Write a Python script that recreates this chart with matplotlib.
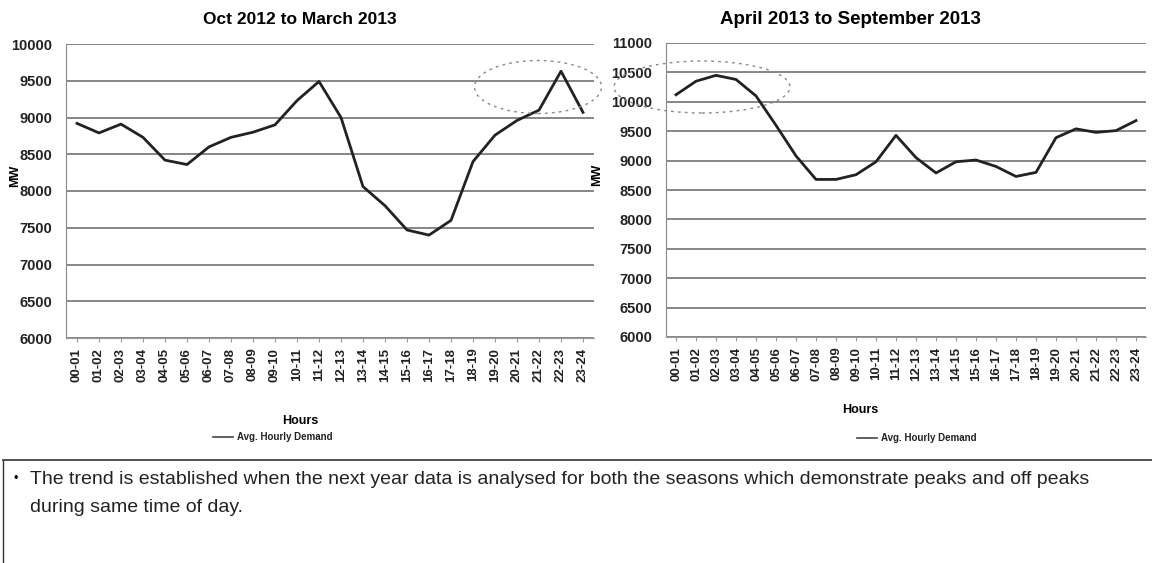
import matplotlib
matplotlib.use("Agg")
import matplotlib.pyplot as plt
from matplotlib.patches import Ellipse
from matplotlib.lines import Line2D

plt.rcParams['font.family'] = ['Liberation Sans', 'DejaVu Sans']

hours = ["00-01", "01-02", "02-03", "03-04", "04-05", "05-06", "06-07", "07-08",
         "08-09", "09-10", "10-11", "11-12", "12-13", "13-14", "14-15", "15-16",
         "16-17", "17-18", "18-19", "19-20", "20-21", "21-22", "22-23", "23-24"]

# Oct 2012 to March 2013
winter_mw = [8920, 8790, 8910, 8730, 8420, 8360, 8600, 8730, 8800, 8900, 9230, 9490,
             9000, 8060, 7800, 7470, 7400, 7600, 8400, 8760, 8960, 9100, 9630, 9070]
# April 2013 to September 2013
summer_mw = [10120, 10350, 10450, 10380, 10100, 9600, 9080, 8680, 8680, 8760, 8980, 9430,
             9050, 8790, 8980, 9010, 8900, 8730, 8800, 9390, 9540, 9480, 9510, 9680]

W, H = 1152, 563
fig = plt.figure(figsize=(W / 100, H / 100), dpi=100)


def px(x0, y0, x1, y1):
    return [x0 / W, 1 - y1 / H, (x1 - x0) / W, (y1 - y0) / H]


def fx(x):
    return x / W


def fy(y):
    return 1 - y / H


def style_axes(ax, data, ylim, ylab_x):
    ax.plot(range(len(hours)), data, color='#222222', lw=2)
    ax.set_xlim(-0.5, len(hours) - 0.5)
    ax.set_ylim(*ylim)
    ax.set_yticks(range(ylim[0], ylim[1] + 1, 500))
    ax.set_xticks(range(len(hours)))
    ax.set_xticklabels(hours, rotation=90, fontsize=9.5, fontweight='bold', color='#222222')
    for lab in ax.get_yticklabels():
        lab.set_fontsize(10.5)
        lab.set_fontweight('bold')
        lab.set_color('#222222')
    ax.grid(axis='y', color='#666666', lw=1.1)
    ax.set_axisbelow(True)
    for s in ['top', 'right']:
        ax.spines[s].set_visible(False)
    ax.spines['left'].set_color('#888888')
    ax.spines['bottom'].set_color('#999999')
    ax.tick_params(axis='y', length=0, pad=10)
    ax.tick_params(axis='x', length=3, color='#999999', pad=4)
    ax.set_ylabel("MW", fontsize=9, fontweight='bold')
    ax.yaxis.set_label_coords(ylab_x, 0.55)


ax1 = fig.add_axes(px(66, 44, 594, 338))
style_axes(ax1, winter_mw, (6000, 10000), -0.085)

ax2 = fig.add_axes(px(666, 43, 1146, 337))
style_axes(ax2, summer_mw, (6000, 11000), -0.13)

# titles and axis captions (placed like the original spreadsheet charts)
fig.text(fx(300), fy(20), "Oct 2012 to March 2013", fontsize=12.5,
         fontweight='bold', ha='center', va='center')
fig.text(fx(850), fy(20), "April 2013 to September 2013", fontsize=13.5,
         fontweight='bold', ha='center', va='center')
fig.text(fx(300), fy(421), "Hours", fontsize=9, fontweight='bold', ha='center', va='center')
fig.text(fx(860), fy(410), "Hours", fontsize=9, fontweight='bold', ha='center', va='center')

# legends
for lx, ly in [(213, 437), (857, 438)]:
    fig.add_artist(Line2D([fx(lx), fx(lx + 20)], [fy(ly)] * 2, color='#444444', lw=1.2))
    fig.text(fx(lx + 24), fy(ly), "Avg. Hourly Demand", fontsize=7,
             fontweight='bold', va='center', ha='left', color='#222222')

# dotted highlight ellipses
for cx, cy, ew, eh in [(538, 87, 127, 53), (702, 87, 176, 52)]:
    fig.add_artist(Ellipse((fx(cx), fy(cy)), ew / W, eh / H, fill=False,
                           ls=(0, (2, 3)), lw=1, color='#888888',
                           transform=fig.transFigure))

# text box below
fig.add_artist(Line2D([0.003, 1.0], [fy(460)] * 2, color='#333333', lw=1.2))
fig.add_artist(Line2D([0.003, 0.003], [fy(460), 0], color='#333333', lw=1.0))
fig.text(fx(14), fy(479), "•", fontsize=9, va='center')
fig.text(fx(30), fy(479),
         "The trend is established when the next year data is analysed for both the seasons "
         "which demonstrate peaks and off peaks",
         fontsize=14, va='center', color='#222222')
fig.text(fx(30), fy(508), "during same time of day.",
         fontsize=14, va='center', color='#222222')

fig.savefig("out.png", dpi=100)
